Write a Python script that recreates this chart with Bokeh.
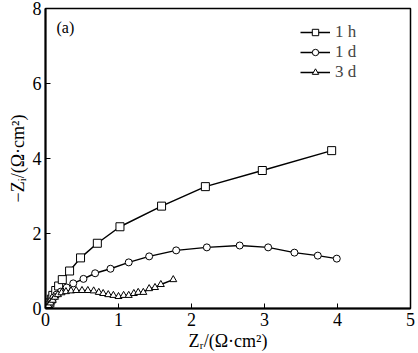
from bokeh.plotting import figure
from bokeh.models import Range1d, FixedTicker, Legend, LegendItem, Label
from bokeh.embed import file_html
from bokeh.resources import INLINE

# 1 h (squares)
x_1h = [0.02, 0.04, 0.06, 0.08, 0.10, 0.14, 0.18, 0.23, 0.33, 0.48, 0.71, 1.02, 1.59, 2.19, 2.97, 3.92]
y_1h = [0.03, 0.08, 0.15, 0.25, 0.35, 0.48, 0.60, 0.77, 1.00, 1.35, 1.74, 2.18, 2.73, 3.25, 3.68, 4.21]

# 1 d (circles)
x_1d = [0.01, 0.03, 0.05, 0.08, 0.11, 0.15, 0.21, 0.29, 0.38, 0.52, 0.68, 0.89, 1.14, 1.42, 1.79, 2.21,
        2.66, 3.05, 3.41, 3.73, 3.99]
y_1d = [0.02, 0.06, 0.12, 0.20, 0.29, 0.37, 0.45, 0.56, 0.67, 0.79, 0.94, 1.06, 1.23, 1.39, 1.55, 1.63,
        1.68, 1.63, 1.49, 1.41, 1.33]

# 3 d (triangles)
x_3d = [0.02, 0.04, 0.07, 0.10, 0.13, 0.17, 0.22, 0.28, 0.35, 0.42, 0.50, 0.58, 0.66, 0.73, 0.79, 0.86,
        0.93, 1.00, 1.07, 1.14, 1.21, 1.27, 1.34, 1.42, 1.50, 1.58, 1.75]
y_3d = [0.03, 0.08, 0.15, 0.22, 0.30, 0.37, 0.42, 0.45, 0.47, 0.48, 0.48, 0.48, 0.47, 0.43, 0.40, 0.37,
        0.35, 0.32, 0.35, 0.35, 0.40, 0.43, 0.43, 0.53, 0.56, 0.64, 0.77]

x_ticks = [0, 1, 2, 3, 4, 5]
y_ticks = [0, 2, 4, 6, 8]
labels = ["1 h", "1 d", "3 d"]

FONT = "Liberation Serif"

p = figure(width=418, height=353, output_backend="svg", toolbar_location=None,
           x_range=Range1d(0, 5), y_range=Range1d(0, 8),
           min_border_left=45, min_border_right=8, min_border_top=8, min_border_bottom=45)
p.grid.visible = False
p.outline_line_color = "black"
p.outline_line_width = 1.5
p.background_fill_color = "white"
p.border_fill_color = "white"

for ax in (p.xaxis[0], p.yaxis[0]):
    ax.major_tick_in = 5
    ax.major_tick_out = 0
    ax.minor_tick_line_color = None
    ax.axis_line_width = 2
    ax.major_tick_line_width = 1
    ax.major_label_text_font = FONT
    ax.major_label_text_font_size = "18px"
    ax.major_label_text_color = "black"
    ax.axis_label_text_font = FONT
    ax.axis_label_text_font_size = "18px"
    ax.axis_label_text_font_style = "normal"
    ax.axis_label_text_color = "black"

p.xaxis.ticker = FixedTicker(ticks=x_ticks)
p.yaxis.ticker = FixedTicker(ticks=y_ticks)
p.xaxis.axis_label = "Zᵣ/(Ω·cm²)"
p.yaxis.axis_label = "−Zᵢ/(Ω·cm²)"
p.xaxis.major_label_standoff = 4
p.yaxis.major_label_standoff = 4
p.xaxis.axis_label_standoff = 2
p.yaxis.axis_label_standoff = 2

l1 = p.line(x_1h, y_1h, line_color="black", line_width=1.5)
s1 = p.scatter(x_1h, y_1h, marker="square", size=8, fill_color="white", line_color="black", line_width=1)
l2 = p.line(x_1d, y_1d, line_color="black", line_width=1.5)
s2 = p.scatter(x_1d, y_1d, marker="circle", size=7, fill_color="white", line_color="black", line_width=1)
l3 = p.line(x_3d, y_3d, line_color="black", line_width=1.5)
s3 = p.scatter(x_3d, y_3d, marker="triangle", size=7, fill_color="white", line_color="black", line_width=1)

legend = Legend(items=[LegendItem(label=labels[0], renderers=[l1, s1]),
                       LegendItem(label=labels[1], renderers=[l2, s2]),
                       LegendItem(label=labels[2], renderers=[l3, s3])],
                location=(255, 226), border_line_color=None, background_fill_alpha=0,
                label_text_font=FONT, label_text_font_size="17px",
                glyph_width=30, glyph_height=16, spacing=0, padding=4, margin=0,
                label_standoff=5, label_height=16)
p.add_layout(legend)

p.add_layout(Label(x=0.15, y=7.5, text="(a)", text_font=FONT, text_font_size="16px",
                   text_color="black", text_baseline="middle"))

open("out.html", "w").write(file_html(p, INLINE))
